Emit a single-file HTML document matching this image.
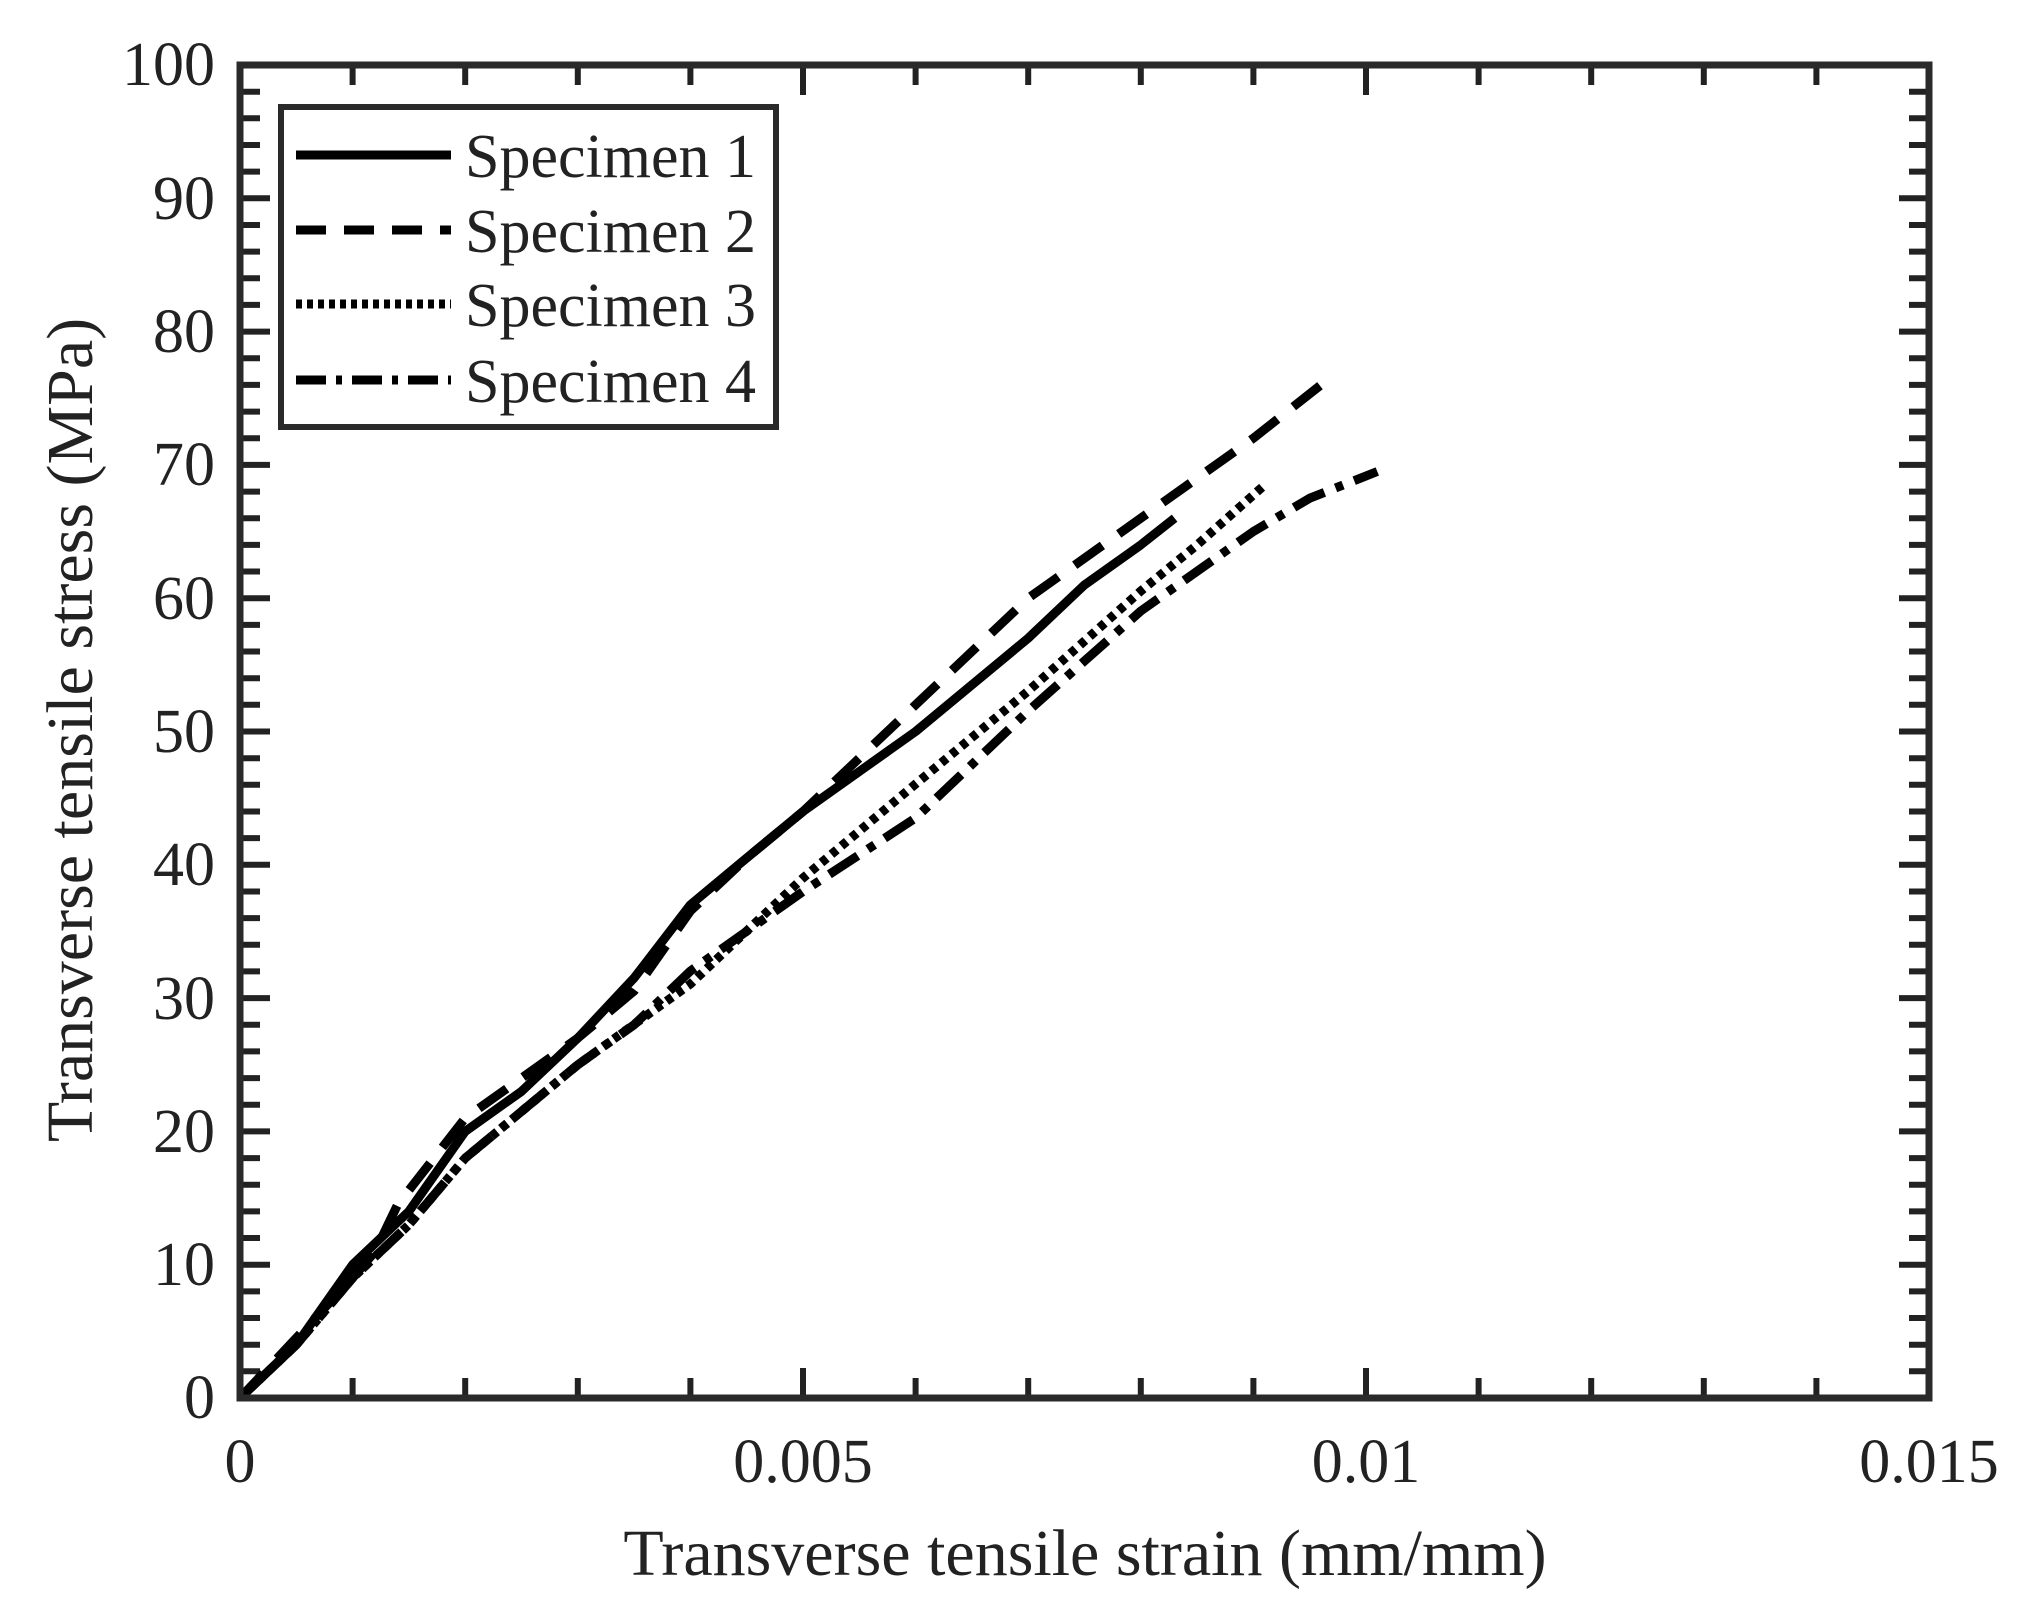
<!DOCTYPE html>
<html><head><meta charset="utf-8"><style>
html,body{margin:0;padding:0;background:#fff}
svg text{font-family:"Liberation Serif",serif;fill:#222}
</style></head><body>
<svg width="2031" height="1614" viewBox="0 0 2031 1614" xmlns="http://www.w3.org/2000/svg">
<rect width="2031" height="1614" fill="#fff"/>
<g stroke="#222" stroke-width="6" fill="none">
<path d="M240 1398v-30M352.6 1398v-20M465.2 1398v-20M577.8 1398v-20M690.4 1398v-20M803 1398v-30M915.6 1398v-20M1028.2 1398v-20M1140.8 1398v-20M1253.4 1398v-20M1366 1398v-30M1478.6 1398v-20M1591.2 1398v-20M1703.8 1398v-20M1816.4 1398v-20M1929 1398v-30"/>
<path d="M240 65v30M352.6 65v20M465.2 65v20M577.8 65v20M690.4 65v20M803 65v30M915.6 65v20M1028.2 65v20M1140.8 65v20M1253.4 65v20M1366 65v30M1478.6 65v20M1591.2 65v20M1703.8 65v20M1816.4 65v20M1929 65v30"/>
<path d="M240 1398h30M240 1371.3h20M240 1344.7h20M240 1318h20M240 1291.4h20M240 1264.7h30M240 1238h20M240 1211.4h20M240 1184.7h20M240 1158.1h20M240 1131.4h30M240 1104.7h20M240 1078.1h20M240 1051.4h20M240 1024.8h20M240 998.1h30M240 971.4h20M240 944.8h20M240 918.1h20M240 891.5h20M240 864.8h30M240 838.1h20M240 811.5h20M240 784.8h20M240 758.2h20M240 731.5h30M240 704.8h20M240 678.2h20M240 651.5h20M240 624.9h20M240 598.2h30M240 571.5h20M240 544.9h20M240 518.2h20M240 491.6h20M240 464.9h30M240 438.2h20M240 411.6h20M240 384.9h20M240 358.3h20M240 331.6h30M240 304.9h20M240 278.3h20M240 251.6h20M240 225h20M240 198.3h30M240 171.6h20M240 145h20M240 118.3h20M240 91.7h20M240 65h30"/>
<path d="M1929 1398h-30M1929 1371.3h-20M1929 1344.7h-20M1929 1318h-20M1929 1291.4h-20M1929 1264.7h-30M1929 1238h-20M1929 1211.4h-20M1929 1184.7h-20M1929 1158.1h-20M1929 1131.4h-30M1929 1104.7h-20M1929 1078.1h-20M1929 1051.4h-20M1929 1024.8h-20M1929 998.1h-30M1929 971.4h-20M1929 944.8h-20M1929 918.1h-20M1929 891.5h-20M1929 864.8h-30M1929 838.1h-20M1929 811.5h-20M1929 784.8h-20M1929 758.2h-20M1929 731.5h-30M1929 704.8h-20M1929 678.2h-20M1929 651.5h-20M1929 624.9h-20M1929 598.2h-30M1929 571.5h-20M1929 544.9h-20M1929 518.2h-20M1929 491.6h-20M1929 464.9h-30M1929 438.2h-20M1929 411.6h-20M1929 384.9h-20M1929 358.3h-20M1929 331.6h-30M1929 304.9h-20M1929 278.3h-20M1929 251.6h-20M1929 225h-20M1929 198.3h-30M1929 171.6h-20M1929 145h-20M1929 118.3h-20M1929 91.7h-20M1929 65h-30"/>
</g>
<g fill="none" stroke="#000" stroke-width="9" stroke-linejoin="round">
<polyline points="240,1398 296.3,1344.7 352.6,1264.7 408.9,1211.4 465.2,1131.4 521.5,1091.4 577.8,1038.1 634.1,978 690.4,904.8 746.7,858 803,811.5 859.3,771.5 915.6,731.5 1028.2,638.2 1084.5,584.9 1140.8,544.9 1174.6,518.2"/>
<polyline stroke-dasharray="34,20" points="240,1398 296.3,1338 352.6,1278 375.1,1251.4 397.6,1204.7 465.2,1118.1 577.8,1038.1 634.1,991 690.4,911 746.7,858 803,811.5 915.6,704.8 1028.2,598.2 1140.8,518.2 1253.4,438.2 1321,384.9"/>
<polyline stroke-dasharray="7,6" points="240,1398 296.3,1344.7 352.6,1278 408.9,1224.7 465.2,1158.1 577.8,1064.8 690.4,984 803,878 915.6,784 1028.2,691 1140.8,591 1197.1,544.9 1264.7,484.9"/>
<polyline stroke-dasharray="34,12,8,12" points="240,1398 296.3,1344.7 352.6,1278 408.9,1224.7 465.2,1158.1 577.8,1064.8 634.1,1024.8 690.4,971 803,891.5 915.6,818 1028.2,711 1140.8,611 1253.4,531.5 1309.7,498.2 1377.3,471.5"/>
</g>
<rect x="240" y="65" width="1689" height="1333" fill="none" stroke="#2a2a2a" stroke-width="7"/>
<g font-size="62" text-anchor="end">
<text x="215" y="85">100</text><text x="215" y="219">90</text><text x="215" y="352">80</text>
<text x="215" y="485">70</text><text x="215" y="619">60</text><text x="215" y="752">50</text>
<text x="215" y="885">40</text><text x="215" y="1019">30</text><text x="215" y="1152">20</text>
<text x="215" y="1285">10</text><text x="215" y="1418">0</text>
</g>
<g font-size="62" text-anchor="middle">
<text x="240" y="1482">0</text><text x="803" y="1482">0.005</text>
<text x="1366" y="1482">0.01</text><text x="1929" y="1482">0.015</text>
<text x="1085" y="1575" font-size="66">Transverse tensile strain (mm/mm)</text>
<text transform="translate(92,730) rotate(-90)" font-size="66">Transverse tensile stress (MPa)</text>
</g>
<rect x="281" y="107" width="495" height="320" fill="#fff" stroke="#2a2a2a" stroke-width="6"/>
<g stroke="#000" stroke-width="9">
<line x1="296" y1="155" x2="451" y2="155"/>
<line x1="296" y1="230" x2="451" y2="230" stroke-dasharray="30,18"/>
<line x1="296" y1="304" x2="451" y2="304" stroke-dasharray="6,5"/>
<line x1="296" y1="380" x2="451" y2="380" stroke-dasharray="30,10,6,10"/>
</g>
<g font-size="62">
<text x="465" y="177">Specimen 1</text><text x="465" y="252">Specimen 2</text>
<text x="465" y="326">Specimen 3</text><text x="465" y="402">Specimen 4</text>
</g>
</svg>
</body></html>
